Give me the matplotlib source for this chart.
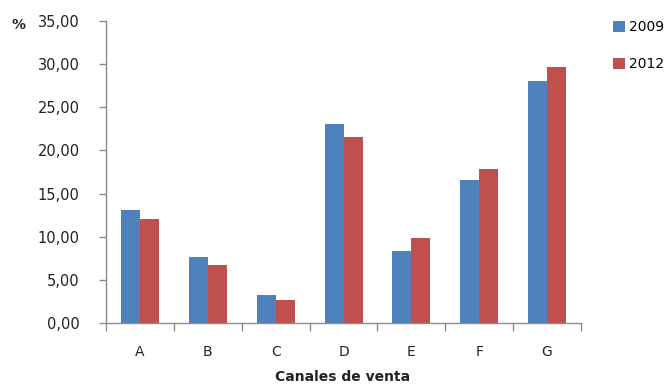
import numpy as np
import matplotlib
matplotlib.use("Agg")
import matplotlib.pyplot as plt
from matplotlib.ticker import FuncFormatter, FixedLocator

# Sales channel shares (%) for the two survey years
canales = ["A", "B", "C", "D", "E", "F", "G"]
serie_2009 = [13.1, 7.7, 3.2, 23.0, 8.3, 16.6, 28.0]
serie_2012 = [12.0, 6.7, 2.7, 21.6, 9.8, 17.8, 29.7]
anios = ["2009", "2012"]

azul = "#4F81BD"
rojo = "#C0504D"
gris = "#8C8C8C"

plt.rcParams["font.family"] = ["DejaVu Sans"]

fig = plt.figure(figsize=(6.67, 3.86), dpi=100)
ax = fig.add_axes([0.159, 0.163, 0.712, 0.783])

x = np.arange(len(canales))
w = 0.28
b1 = ax.bar(x - w / 2, serie_2009, width=w, color=azul, label=anios[0])
b2 = ax.bar(x + w / 2, serie_2012, width=w, color=rojo, label=anios[1])

ax.set_xlim(-0.5, len(canales) - 0.5)
ax.set_ylim(0, 35)
ax.set_yticks(np.arange(0, 35.1, 5))
ax.yaxis.set_major_formatter(FuncFormatter(lambda v, _: f"{v:.2f}".replace(".", ",")))

ax.set_xticks(x)
ax.set_xticklabels(canales)
ax.xaxis.set_minor_locator(FixedLocator(np.arange(-0.5, len(canales), 1.0)))
ax.tick_params(axis="x", which="major", length=0, pad=16, labelsize=10, colors="#222222")
ax.tick_params(axis="x", which="minor", length=6, width=1, color=gris, direction="out")
ax.tick_params(axis="y", length=5, width=1, color=gris, direction="out", pad=14,
               labelsize=10.5, labelcolor="#222222")

for s in ("top", "right"):
    ax.spines[s].set_visible(False)
for s in ("left", "bottom"):
    ax.spines[s].set_color(gris)
    ax.spines[s].set_linewidth(1)

fig.text(343 / 667, 1 - 377 / 386, "Canales de venta", ha="center", va="center",
         fontsize=10, fontweight="bold", color="#222222")
fig.text(18 / 667, 1 - 25 / 386, "%", ha="center", va="center",
         fontsize=10, fontweight="bold", color="#222222")

fig.legend(handles=[b1, b2], loc="upper left", bbox_to_anchor=(613 / 667, 1 - 20 / 386),
           frameon=False, fontsize=10, handlelength=0.85, handleheight=0.85,
           handletextpad=0.3, labelspacing=1.65, borderaxespad=0, borderpad=0)

fig.savefig("out.png", dpi=100)
